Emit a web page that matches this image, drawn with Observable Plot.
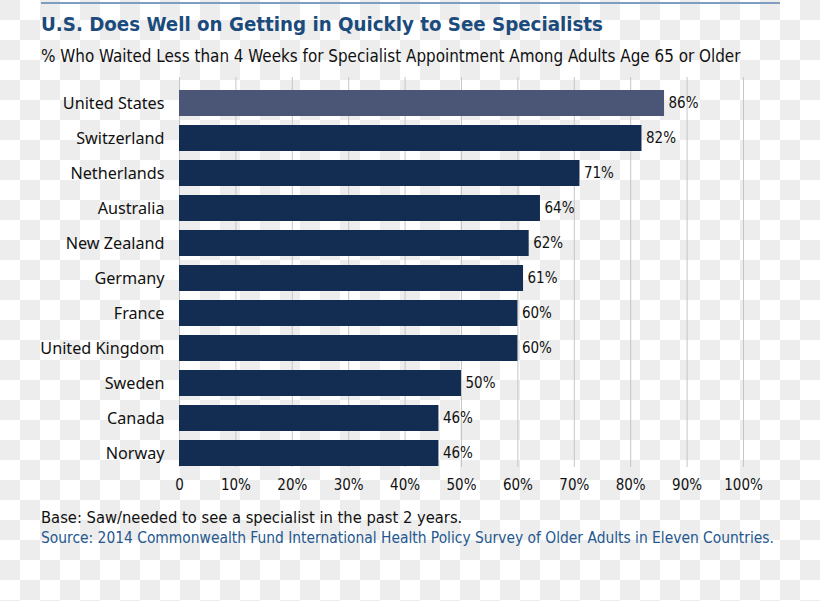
<!DOCTYPE html>
<html>
<head>
<meta charset="utf-8">
<script src="https://cdn.jsdelivr.net/npm/d3@7"></script>
<script src="https://cdn.jsdelivr.net/npm/@observablehq/plot@0.6"></script>
<style>
  html, body { margin: 0; padding: 0; }
  body {
    width: 820px; height: 601px; overflow: hidden; position: relative;
    background: repeating-conic-gradient(#ffffff 0 25%, #ededed 0 50%) 0 0 / 40px 40px;
  }
  .rule { position: absolute; left: 41px; top: 2px; width: 739px; height: 2px; background: #7f9dbf; }
  .txt { position: absolute; left: 41px; white-space: nowrap; line-height: 1; font-family: "Liberation Sans Narrow", "DejaVu Sans Condensed", sans-serif; }
  #title { top: 14px; font-weight: bold; font-size: 20.3px; color: #1b4b7c; }
  #subtitle { top: 48px; font-size: 16.9px; color: #111; }
  #base { top: 510px; font-size: 16.4px; color: #111; }
  #source { top: 531px; font-size: 15.4px; color: #24588f; }
  #chart { position: absolute; left: 0; top: 68px; }
</style>
</head>
<body>
<div class="rule"></div>
<div class="txt" id="title">U.S. Does Well on Getting in Quickly to See Specialists</div>
<div class="txt" id="subtitle">% Who Waited Less than 4 Weeks for Specialist Appointment Among Adults Age 65 or Older</div>
<div id="chart"></div>
<div class="txt" id="base">Base: Saw/needed to see a specialist in the past 2 years.</div>
<div class="txt" id="source">Source: 2014 Commonwealth Fund International Health Policy Survey of Older Adults in Eleven Countries.</div>
<script>
const countries = ["United States", "Switzerland", "Netherlands", "Australia", "New Zealand", "Germany", "France", "United Kingdom", "Sweden", "Canada", "Norway"];
const values = [86, 82, 71, 64, 62, 61, 60, 60, 50, 46, 46];
const highlighted = "United States";
const xTicks = [0, 10, 20, 30, 40, 50, 60, 70, 80, 90, 100];
const xTickLabels = ["0", "10%", "20%", "30%", "40%", "50%", "60%", "70%", "80%", "90%", "100%"];

const data = countries.map((c, i) => ({country: c, value: values[i]}));
const narrow = "'Liberation Sans Narrow', 'DejaVu Sans Condensed', sans-serif";

const chart = Plot.plot({
  width: 820,
  height: 432,
  marginLeft: 179,
  marginRight: 77,
  marginTop: 9,
  marginBottom: 33,
  style: {background: "transparent", overflow: "visible"},
  x: {domain: [0, 100]},
  y: {domain: countries, paddingInner: 0.27, paddingOuter: 0.2, align: 0.9},
  marks: [
    Plot.gridX(xTicks, {stroke: "#c6c6c6", strokeOpacity: 1}),
    Plot.barX(data.filter(d => d.country !== highlighted), {x: "value", y: "country", fill: "#132c52"}),
    Plot.barX(data.filter(d => d.country === highlighted), {x: "value", y: "country", fill: "#4b5576"}),
    Plot.text(data, {x: "value", y: "country", text: d => d.value + "%", textAnchor: "start", dx: 4, fontFamily: narrow, fontSize: 15, fill: "#111"}),
    Plot.axisX({ticks: xTicks, tickFormat: d => xTickLabels[xTicks.indexOf(d)], tickSize: 0, tickPadding: 12, fontFamily: narrow, fontSize: 15, fill: "#111", label: null}),
    Plot.axisY({tickSize: 0, tickPadding: 15, fontFamily: "'Noto Sans', sans-serif", fontSize: 16.2, fill: "#111", label: null})
  ]
});
document.getElementById("chart").appendChild(chart);
</script>
</body>
</html>
